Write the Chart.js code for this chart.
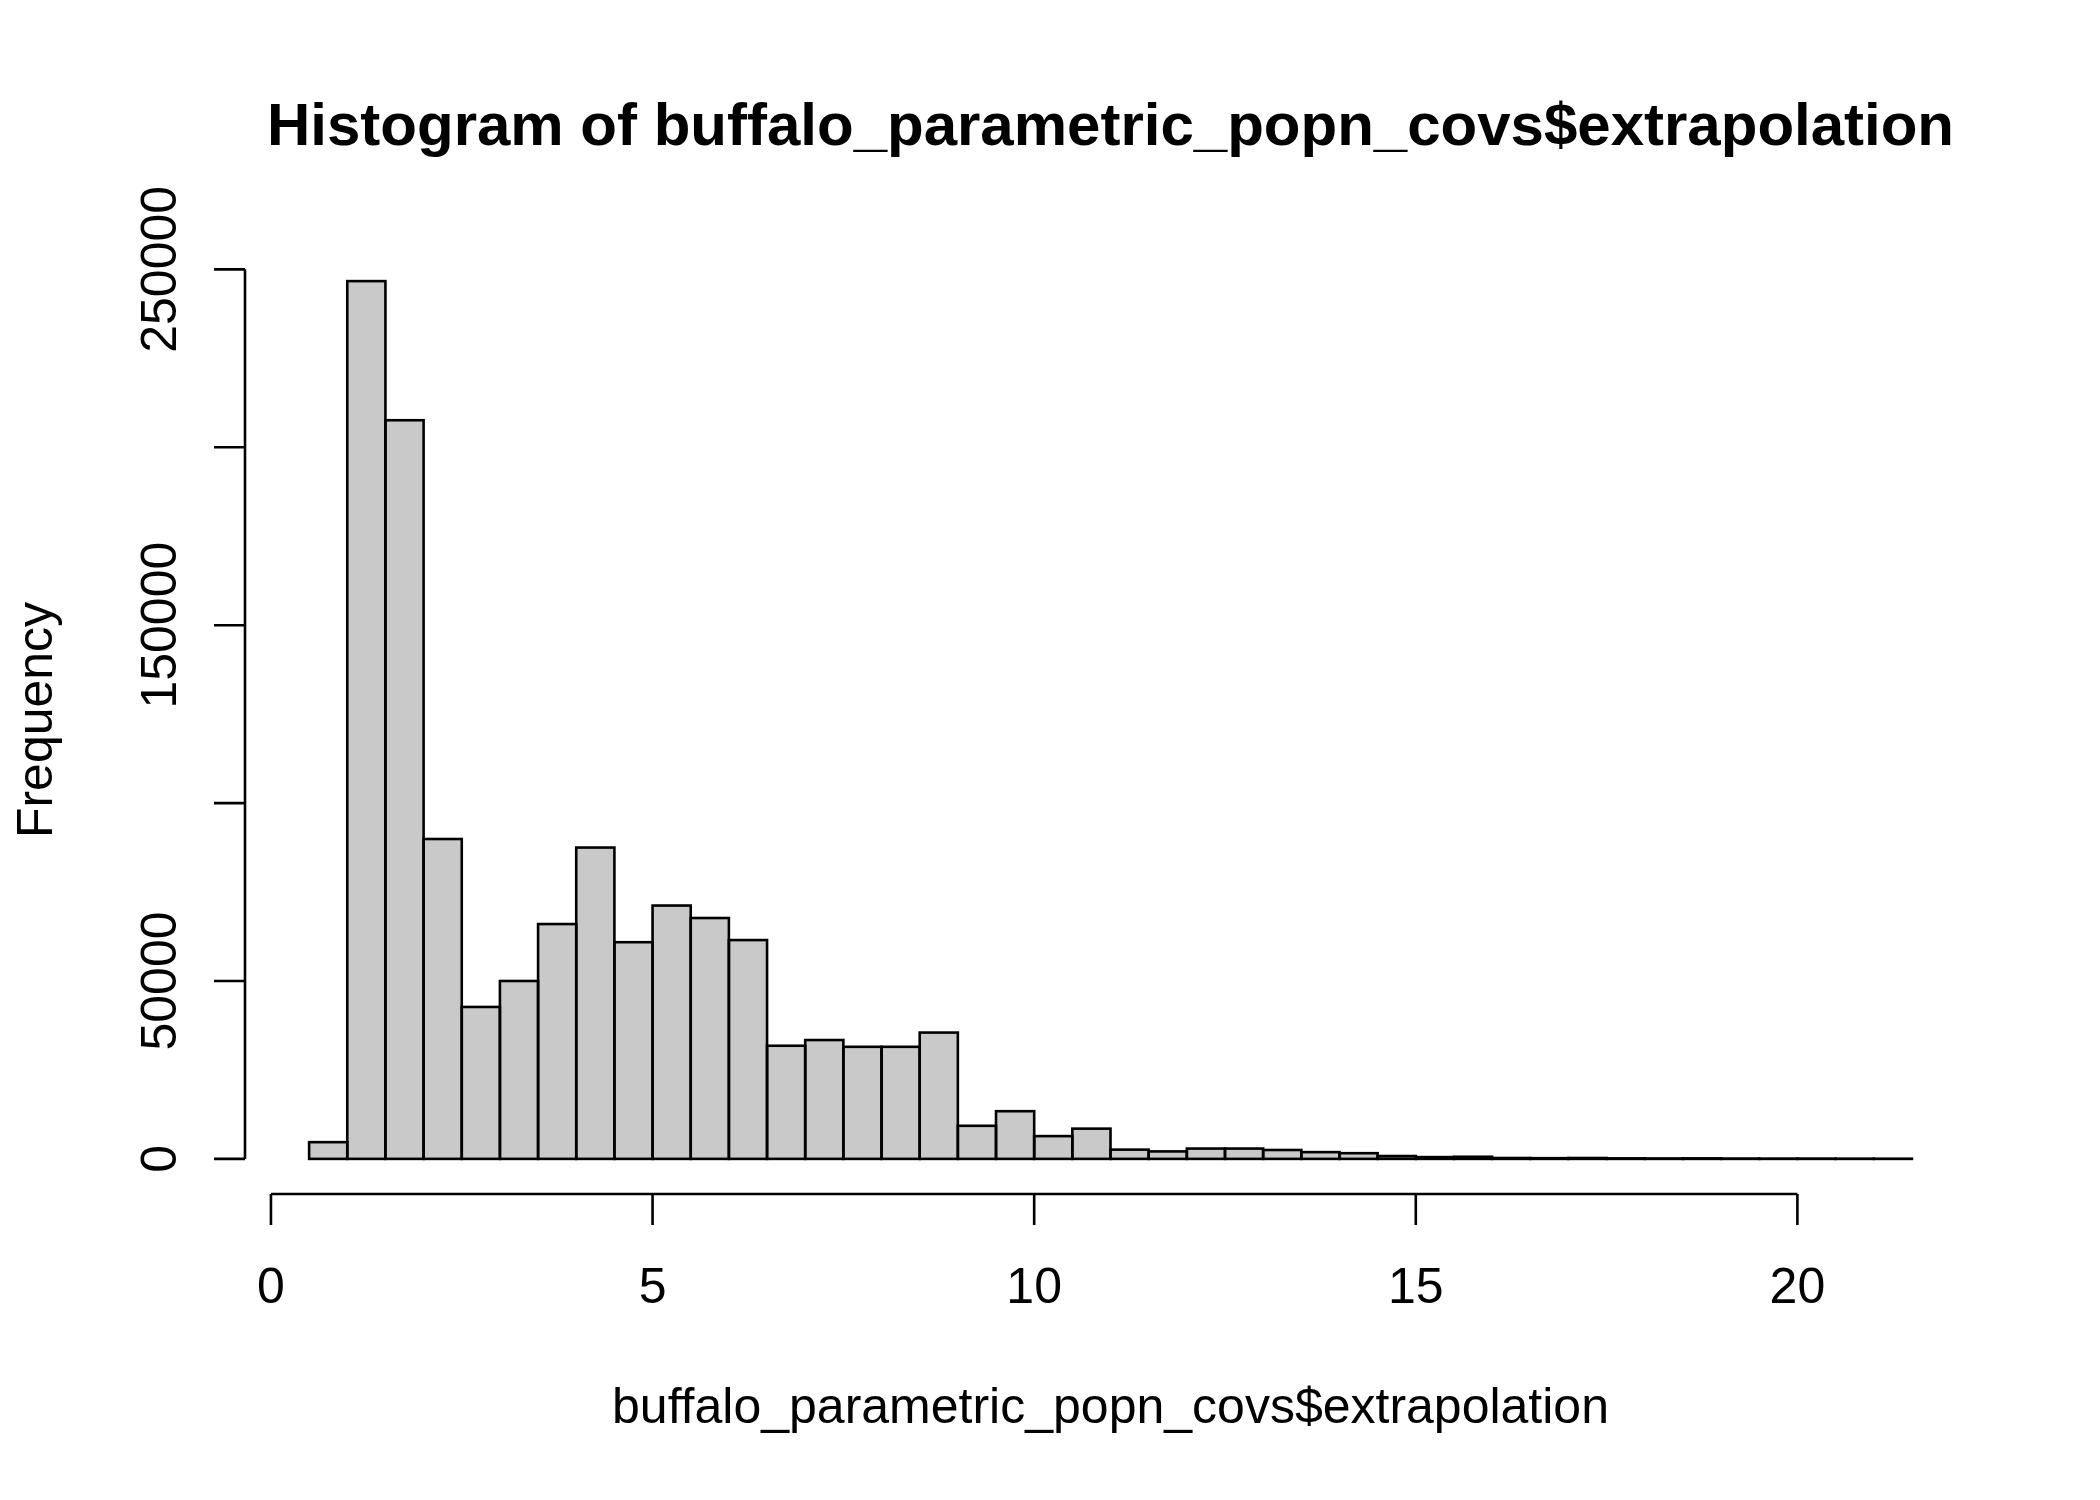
<!DOCTYPE html>
<html>
<head>
<meta charset="utf-8">
<script src="https://cdn.jsdelivr.net/npm/chart.js@4"></script>
<style>
  html, body { margin: 0; padding: 0; background: #fff; }
  canvas { display: block; }
</style>
</head>
<body>
<canvas id="histograma" width="2100" height="1500"></canvas>
<script>
const breaks = [0.5, 1, 1.5, 2, 2.5, 3, 3.5, 4, 4.5, 5, 5.5, 6, 6.5, 7, 7.5, 8, 8.5, 9, 9.5, 10,
    10.5, 11, 11.5, 12, 12.5, 13, 13.5, 14, 14.5, 15, 15.5, 16, 16.5, 17, 17.5, 18, 18.5, 19, 19.5, 20,
    20.5, 21, 21.5]
const counts = [4700, 246700, 207600, 89900, 42700, 50000, 66000, 87500, 60900, 71200,
    67700, 61500, 31800, 33400, 31500, 31500, 35500, 9300, 13400, 6400,
    8500, 2600, 2100, 2900, 2900, 2500, 1900, 1600, 800, 500,
    600, 250, 200, 250, 150, 120, 150, 100, 80, 80,
    60, 50]
const xTicks = [0, 5, 10, 15, 20]
const yTicks = [0, 50000, 100000, 150000, 200000, 250000]
const yLabels = [0, 50000, 150000, 250000]

const titulo = 'Histogram of buffalo_parametric_popn_covs$extrapolation'
const xTitulo = 'buffalo_parametric_popn_covs$extrapolation'
const yTitulo = 'Frequency'

const fuente = '"Liberation Sans", Arial, Helvetica, sans-serif'
Chart.defaults.font.family = fuente
Chart.defaults.color = '#000'

// limites como en R (4% extra a cada lado)
const rangoX = breaks[breaks.length - 1] - breaks[0]
const maxY = Math.max(...counts)

// Ejes estilo R: linea solo entre el primer y ultimo tick
const ejesR = {
    id: 'ejesR',
    afterDatasetsDraw(chart) {
        const { ctx, chartArea, scales: { x, y } } = chart
        ctx.save()
        ctx.lineWidth = 2.6
        ctx.strokeStyle = '#000'

        // contorno de las barras
        chart.getDatasetMeta(0).data.forEach(bar => {
            const p = bar.getProps(['x', 'y', 'base', 'width'], true)
            ctx.strokeRect(p.x - p.width / 2, p.y, p.width, p.base - p.y)
        })

        ctx.beginPath()
        // eje y
        const ax = chartArea.left
        ctx.moveTo(ax, y.getPixelForValue(yTicks[0]))
        ctx.lineTo(ax, y.getPixelForValue(yTicks[yTicks.length - 1]))
        yTicks.forEach(v => {
            const py = y.getPixelForValue(v)
            ctx.moveTo(ax, py)
            ctx.lineTo(ax - 31, py)
        })
        // eje x
        const ay = chartArea.bottom
        ctx.moveTo(x.getPixelForValue(xTicks[0]), ay)
        ctx.lineTo(x.getPixelForValue(xTicks[xTicks.length - 1]), ay)
        xTicks.forEach(v => {
            const px = x.getPixelForValue(v)
            ctx.moveTo(px, ay)
            ctx.lineTo(px, ay + 31)
        })
        ctx.stroke()

        // etiquetas del eje y, giradas
        ctx.fillStyle = '#000'
        ctx.font = '50px ' + fuente
        ctx.textAlign = 'center'
        ctx.textBaseline = 'middle'
        yLabels.forEach(v => {
            ctx.save()
            ctx.translate(ax - 83, y.getPixelForValue(v))
            ctx.rotate(-Math.PI / 2)
            ctx.fillText(String(v), 0, 0)
            ctx.restore()
        })
        ctx.restore()
    }
}

const data = {
    datasets: [
        {
            label: 'Frequency',
            data: counts.map((c, i) => ({ x: (breaks[i] + breaks[i + 1]) / 2, y: c })),
            backgroundColor: '#C9C9C9',
            borderWidth: 0,
            barPercentage: 1,
            categoryPercentage: 1
        }
    ]
}

const config = {
    type: 'bar',
    data: data,
    options: {
        responsive: false,
        devicePixelRatio: 1,
        animation: false,
        layout: { padding: { left: 0, right: 124, top: 0, bottom: 0 } },
        plugins: {
            legend: { display: false },
            tooltip: { enabled: false },
            title: {
                display: true,
                text: titulo,
                fullSize: false,
                color: '#000',
                font: { size: 60, weight: 'bold', lineHeight: 1.2 },
                padding: { top: 92, bottom: 82 }
            }
        },
        scales: {
            x: {
                type: 'linear',
                offset: false,
                min: breaks[0] - 0.04 * rangoX,
                max: breaks[breaks.length - 1] + 0.04 * rangoX,
                grid: { display: false, drawTicks: false },
                border: { display: false },
                afterBuildTicks: s => { s.ticks = xTicks.map(v => ({ value: v })) },
                afterFit: s => { s.height = 306 },
                ticks: {
                    font: { size: 50, lineHeight: 1.2 },
                    color: '#000',
                    padding: 65,
                    maxRotation: 0,
                    autoSkip: false
                },
                title: {
                    display: true,
                    text: xTitulo,
                    color: '#000',
                    font: { size: 50, lineHeight: 1.2 },
                    padding: { top: 0, bottom: 61 }
                }
            },
            y: {
                min: -0.04 * maxY,
                max: 1.04 * maxY,
                grid: { display: false, drawTicks: false },
                border: { display: false },
                ticks: { display: false },
                afterFit: s => { s.width = 245 },
                title: {
                    display: true,
                    text: yTitulo,
                    color: '#000',
                    font: { size: 50, lineHeight: 1.2 },
                    padding: { top: 8, bottom: 0 }
                }
            }
        }
    },
    plugins: [ejesR]
}

new Chart(document.getElementById('histograma'), config)
</script>
</body>
</html>
